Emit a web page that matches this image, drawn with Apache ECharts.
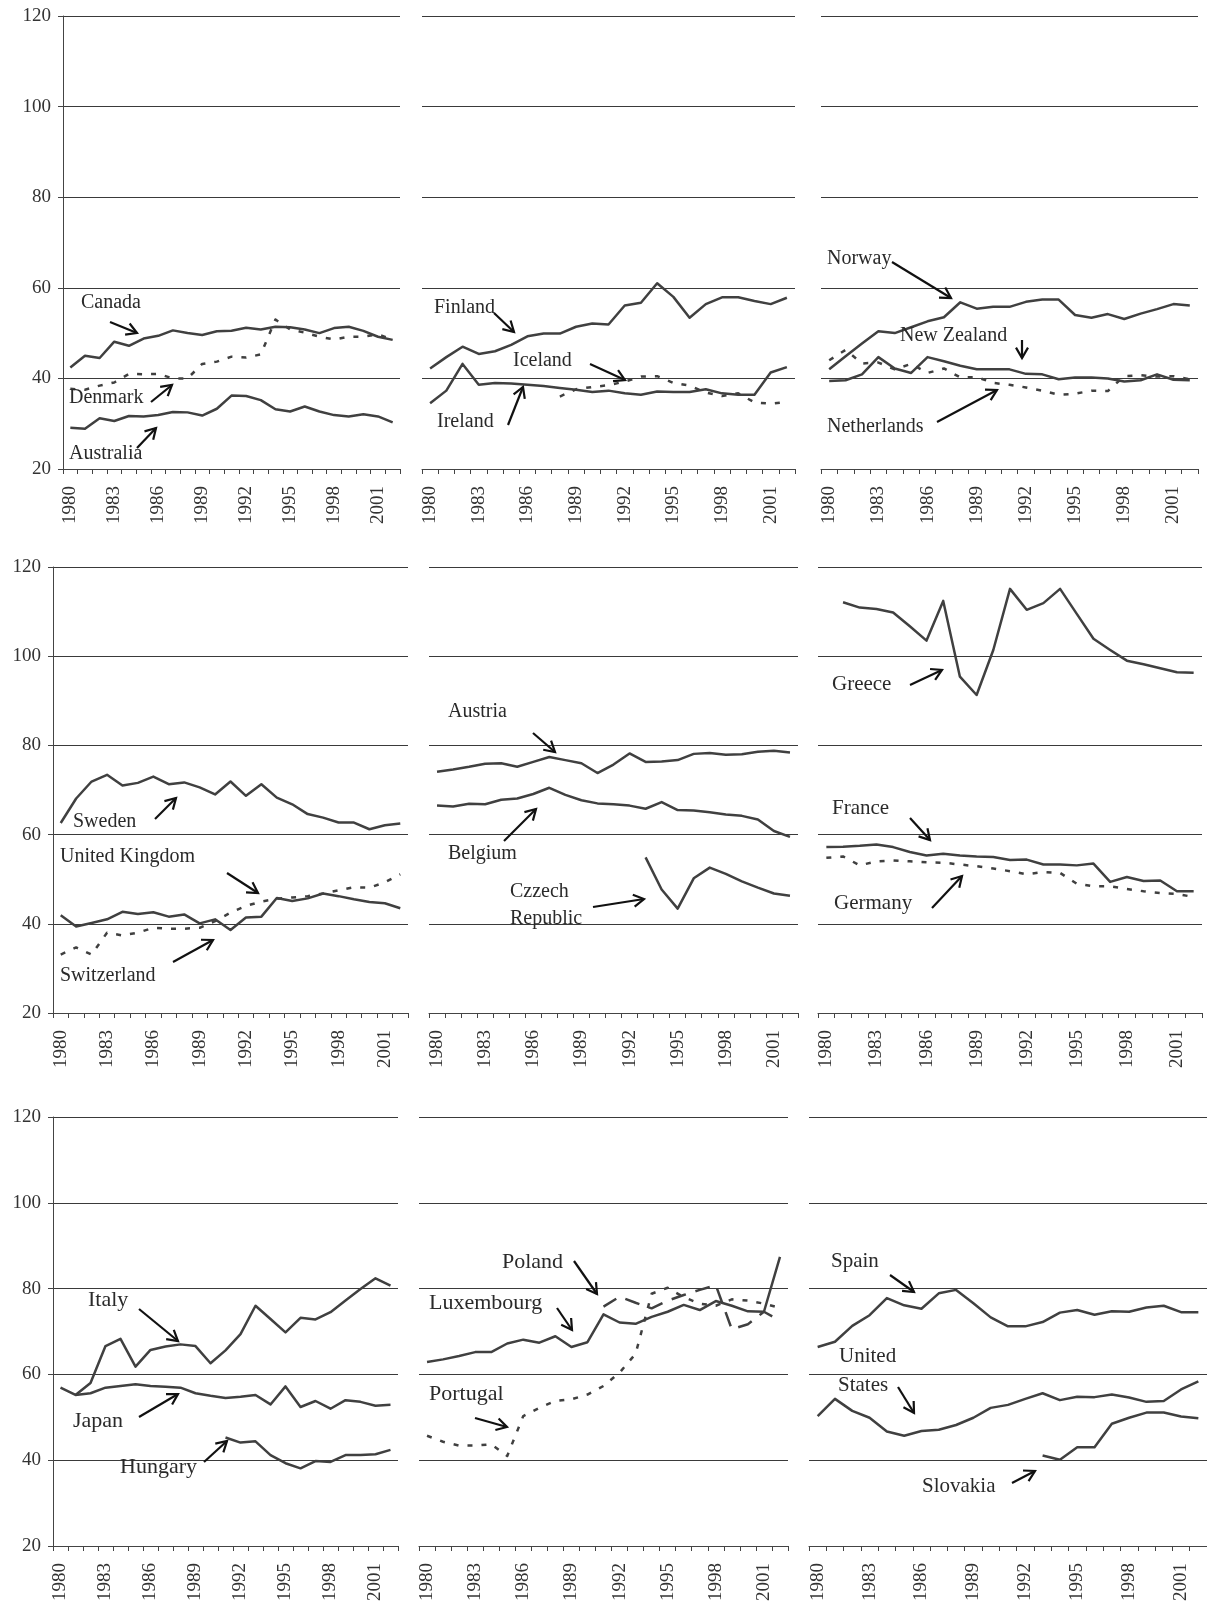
<!DOCTYPE html>
<html>
<head>
<meta charset="utf-8">
<script src="https://cdn.jsdelivr.net/npm/echarts@6/dist/echarts.min.js"></script>
<style>
html,body{margin:0;padding:0;background:#fff;}
#chart{width:1207px;height:1604px;}
</style>
</head>
<body>
<div id="chart"></div>
<script>
// ---------- categories & ticks ----------
const years = ['1980','1981','1982','1983','1984','1985','1986','1987','1988','1989','1990','1991',
               '1992','1993','1994','1995','1996','1997','1998','1999','2000','2001','2002'];
const yTicks = [20, 40, 60, 80, 100, 120];

// ---------- series values ----------
const canada      = [42.4,45.0,44.5,48.1,47.2,48.8,49.4,50.6,50.0,49.6,50.4,50.5,51.2,50.8,51.4,51.3,50.8,50.0,51.1,51.4,50.5,49.2,48.5];
const denmark     = [37.7,37.5,38.4,39.1,41.0,40.9,41.0,40.0,40.0,43.2,43.7,44.8,44.6,45.3,53.0,50.8,50.1,49.2,48.6,49.2,49.2,49.7,48.6];
const australia   = [29.1,28.9,31.2,30.6,31.7,31.6,31.9,32.6,32.5,31.8,33.3,36.2,36.1,35.2,33.2,32.7,33.8,32.7,31.9,31.6,32.1,31.6,30.3];

const finland     = [42.2,44.7,47.0,45.4,46.0,47.4,49.3,49.9,49.9,51.4,52.1,51.9,56.1,56.7,61.0,58.0,53.4,56.4,57.9,57.9,57.1,56.4,57.8];
const iceland     = [null,null,null,null,null,null,null,null,36.0,37.6,38.1,38.5,39.3,40.4,40.5,39.0,38.4,36.9,36.1,36.7,34.7,34.4,34.8];
const ireland     = [34.5,37.3,43.2,38.6,39.0,38.9,38.6,38.3,37.9,37.5,37.0,37.3,36.7,36.4,37.1,37.0,37.0,37.6,36.7,36.4,36.4,41.3,42.5];

const norway      = [42.0,44.9,47.7,50.4,50.0,51.3,52.6,53.5,56.8,55.4,55.8,55.8,56.9,57.4,57.4,54.0,53.4,54.2,53.1,54.3,55.3,56.4,56.1];
const newZealand  = [39.4,39.6,40.9,44.7,42.2,41.2,44.7,43.8,42.8,42.0,42.0,42.0,41.0,40.9,39.8,40.2,40.2,40.0,39.3,39.6,40.9,39.7,39.6];
const netherlands = [44.0,46.3,43.3,43.5,42.0,43.2,41.2,42.2,40.2,40.3,39.0,38.6,38.0,37.3,36.4,36.6,37.3,37.2,40.5,40.7,40.4,40.5,39.8];

const sweden      = [62.6,68.1,71.9,73.4,71.0,71.6,73.0,71.3,71.7,70.6,69.0,71.9,68.7,71.3,68.3,66.8,64.6,63.8,62.7,62.7,61.2,62.1,62.5];
const unitedKingdom = [41.9,39.4,40.2,41.0,42.7,42.2,42.6,41.6,42.1,40.1,41.0,38.6,41.4,41.6,45.8,45.1,45.7,46.8,46.2,45.5,44.9,44.6,43.5];
const switzerland = [33.1,34.7,33.1,38.0,37.4,38.0,39.1,38.9,38.9,39.1,40.6,42.5,44.0,45.0,45.6,45.9,46.2,46.8,47.5,48.2,48.1,49.3,51.1];

const austria     = [74.1,74.6,75.2,75.9,76.0,75.2,76.3,77.4,76.7,76.0,73.8,75.7,78.2,76.3,76.4,76.7,78.1,78.3,77.9,78.0,78.6,78.8,78.4];
const belgium     = [66.5,66.3,66.9,66.8,67.8,68.1,69.1,70.5,68.9,67.7,67.0,66.8,66.5,65.8,67.3,65.5,65.4,65.0,64.5,64.2,63.4,60.8,59.5];
const czech       = [null,null,null,null,null,null,null,null,null,null,null,null,null,54.9,47.7,43.4,50.2,52.6,51.2,49.5,48.1,46.8,46.3];

const greece      = [null,112.1,110.9,110.6,109.8,106.7,103.5,112.4,95.4,91.3,101.4,115.1,110.4,111.9,115.1,109.5,103.9,101.4,99.0,98.2,97.3,96.4,96.3];
const france      = [57.2,57.3,57.5,57.8,57.2,56.1,55.3,55.7,55.3,55.1,55.0,54.3,54.4,53.3,53.3,53.1,53.5,49.4,50.5,49.6,49.7,47.3,47.3];
const germany     = [54.8,55.1,53.1,54.0,54.2,54.0,53.8,53.7,53.3,52.9,52.4,51.8,51.1,51.6,51.4,49.0,48.4,48.4,47.8,47.3,46.9,46.7,46.0];

const italy       = [null,55.2,58.0,66.6,68.3,61.8,65.7,66.5,67.0,66.6,62.6,65.6,69.4,76.0,72.9,69.8,73.2,72.8,74.5,77.2,79.9,82.4,80.7];
const japan       = [56.9,55.2,55.6,56.9,57.3,57.7,57.3,57.1,56.9,55.6,55.0,54.5,54.8,55.2,53.0,57.2,52.4,53.8,52.0,54.0,53.6,52.7,52.9];
const hungary     = [null,null,null,null,null,null,null,null,null,null,null,45.3,44.1,44.4,41.2,39.3,38.1,39.8,39.6,41.2,41.2,41.4,42.4];

const luxembourg  = [62.9,63.5,64.3,65.2,65.2,67.2,68.1,67.4,68.9,66.4,67.5,74.0,72.1,71.8,73.4,74.6,76.2,75.0,77.1,76.0,74.7,74.6,87.4];
const poland      = [null,null,null,null,null,null,null,null,null,null,null,75.8,78.1,76.7,75.4,77.2,78.5,79.7,80.8,70.5,71.7,74.6,72.5];
const portugal    = [45.7,44.3,43.4,43.4,43.7,41.0,50.3,52.2,53.8,54.2,55.3,57.3,60.4,64.8,78.8,80.2,78.0,76.5,76.0,77.5,77.2,76.5,75.5];

const spain       = [66.4,67.6,71.3,73.8,77.8,76.1,75.3,78.9,79.7,76.6,73.3,71.2,71.2,72.2,74.4,75.0,73.9,74.7,74.6,75.6,76.0,74.5,74.5];
const unitedStates = [50.3,54.3,51.5,49.9,46.7,45.7,46.8,47.1,48.2,49.9,52.2,52.9,54.3,55.6,54.0,54.8,54.7,55.3,54.6,53.6,53.8,56.5,58.4];
const slovakia    = [null,null,null,null,null,null,null,null,null,null,null,null,null,41.1,40.1,43.0,43.0,48.5,49.9,51.1,51.1,50.2,49.8];

// ---------- panel layout (pixels) & styles ----------
const FONT = '"Liberation Serif", "Times New Roman", serif';
const LINE_COLOR = '#404040';
const DOT = [5, 9];
const DASH = [15, 10];

const panels = [
  {box:[63,16,337,453],  yAxis:true,  lines:[[canada,'solid'],[denmark,DOT],[australia,'solid']]},
  {box:[422,16,373,453], yAxis:false, lines:[[finland,'solid'],[iceland,DOT],[ireland,'solid']]},
  {box:[821,16,377,453], yAxis:false, lines:[[norway,'solid'],[newZealand,'solid'],[netherlands,DOT]]},
  {box:[53,567,355,446], yAxis:true,  lines:[[sweden,'solid'],[unitedKingdom,'solid'],[switzerland,DOT]]},
  {box:[429,567,369,446],yAxis:false, lines:[[austria,'solid'],[belgium,'solid'],[czech,'solid']]},
  {box:[818,567,384,446],yAxis:false, lines:[[greece,'solid'],[france,'solid'],[germany,DOT]]},
  {box:[53,1117,345,429],yAxis:true,  lines:[[italy,'solid'],[japan,'solid'],[hungary,'solid']]},
  {box:[419,1117,369,429],yAxis:false,lines:[[luxembourg,'solid'],[poland,DASH],[portugal,DOT]]},
  {box:[809,1117,398,429],yAxis:false,lines:[[spain,'solid'],[unitedStates,'solid'],[slovakia,'solid']]}
];

// annotation texts: [text, x(left), y(middle), fontSize]
const notes = [
  ['Canada',81,303,20],['Denmark',69,398,20],['Australia',69,454,20],
  ['Finland',434,308,20],['Iceland',513,361,20],['Ireland',437,422,20],
  ['Norway',827,259,20],['New Zealand',900,336,20],['Netherlands',827,427,20],
  ['Sweden',73,822,20],['United Kingdom',60,857,20],['Switzerland',60,976,20],
  ['Austria',448,712,20],['Belgium',448,854,20],['Czzech',510,892,20],['Republic',510,919,20],
  ['Greece',832,684,21],['France',832,808,21],['Germany',834,903,21],
  ['Italy',88,1300,22],['Japan',73,1421,22],['Hungary',120,1467,22],
  ['Poland',502,1262,22],['Luxembourg',429,1303,22],['Portugal',429,1394,22],
  ['Spain',831,1261,21],['United',839,1356,21],['States',838,1385,21],['Slovakia',922,1486,21]
];
// arrows: [x tail, y tail, x head, y head]
const arrows = [
  [110,322,137,333],[151,402,172,385],[137,448,156,428],
  [494,313,514,332],[590,364,625,380],[508,425,523,387],
  [892,262,951,298],[1022,340,1022,358],[937,422,997,390],
  [155,819,176,798],[227,873,258,893],[173,962,213,940],
  [533,733,555,752],[504,841,536,809],[593,907,644,899],
  [910,685,942,670],[910,818,930,840],[932,908,962,876],
  [139,1309,178,1341],[139,1417,178,1394],[204,1462,227,1441],
  [574,1261,597,1294],[557,1308,572,1330],[475,1418,507,1427],
  [890,1275,914,1292],[898,1387,914,1413],[1012,1483,1035,1471]
];

// ---------- build option ----------
const grid = [], xAxis = [], yAxis = [], series = [];
panels.forEach((p, i) => {
  grid.push({left:p.box[0], top:p.box[1], width:p.box[2], height:p.box[3], containLabel:false});
  xAxis.push({
    type:'category', gridIndex:i, data:years, boundaryGap:true,
    axisLine:{show:true, lineStyle:{color:'#444', width:1}},
    axisTick:{show:true, interval:0, length:5, inside:false, lineStyle:{color:'#444', width:1}},
    axisLabel:{interval:2, rotate:90, margin:17, fontFamily:FONT, fontSize:19, color:'#333'},
    splitLine:{show:false}
  });
  yAxis.push({
    type:'value', gridIndex:i, min:yTicks[0], max:yTicks[yTicks.length-1], interval:20,
    axisLine:{show:p.yAxis, lineStyle:{color:'#444', width:1}},
    axisTick:{show:p.yAxis, length:5, lineStyle:{color:'#444'}},
    axisLabel:{show:p.yAxis, margin:12, fontFamily:FONT, fontSize:19, color:'#333'},
    splitLine:{show:true, lineStyle:{color:'#3a3a3a', width:1}}
  });
  p.lines.forEach(([data, type]) => {
    series.push({
      type:'line', xAxisIndex:i, yAxisIndex:i, data:data,
      symbol:'none', connectNulls:false, silent:true,
      lineStyle:{color:LINE_COLOR, width:2.5, type:type, cap:'butt', join:'round'},
      z:3
    });
  });
});

const graphic = [];
notes.forEach(([t, x, y, fs]) => {
  graphic.push({type:'text', z:10, style:{text:t, x:x, y:y, fill:'#2a2a2a',
    font:fs + 'px ' + FONT, align:'left', verticalAlign:'middle'}});
});
arrows.forEach(([x1, y1, x2, y2]) => {
  const a = Math.atan2(y2 - y1, x2 - x1), L = 12, w = Math.PI / 6;
  graphic.push({type:'line', z:10, shape:{x1, y1, x2, y2}, style:{stroke:'#111', lineWidth:2.2}});
  graphic.push({type:'polyline', z:10, shape:{points:[
      [x2 - L*Math.cos(a - w), y2 - L*Math.sin(a - w)], [x2, y2],
      [x2 - L*Math.cos(a + w), y2 - L*Math.sin(a + w)]]},
    style:{stroke:'#111', lineWidth:2.2, fill:null}});
});

const chart = echarts.init(document.getElementById('chart'), null, {renderer:'canvas'});
chart.setOption({
  animation:false,
  backgroundColor:'#ffffff',
  grid, xAxis, yAxis, series, graphic
});
</script>
</body>
</html>
